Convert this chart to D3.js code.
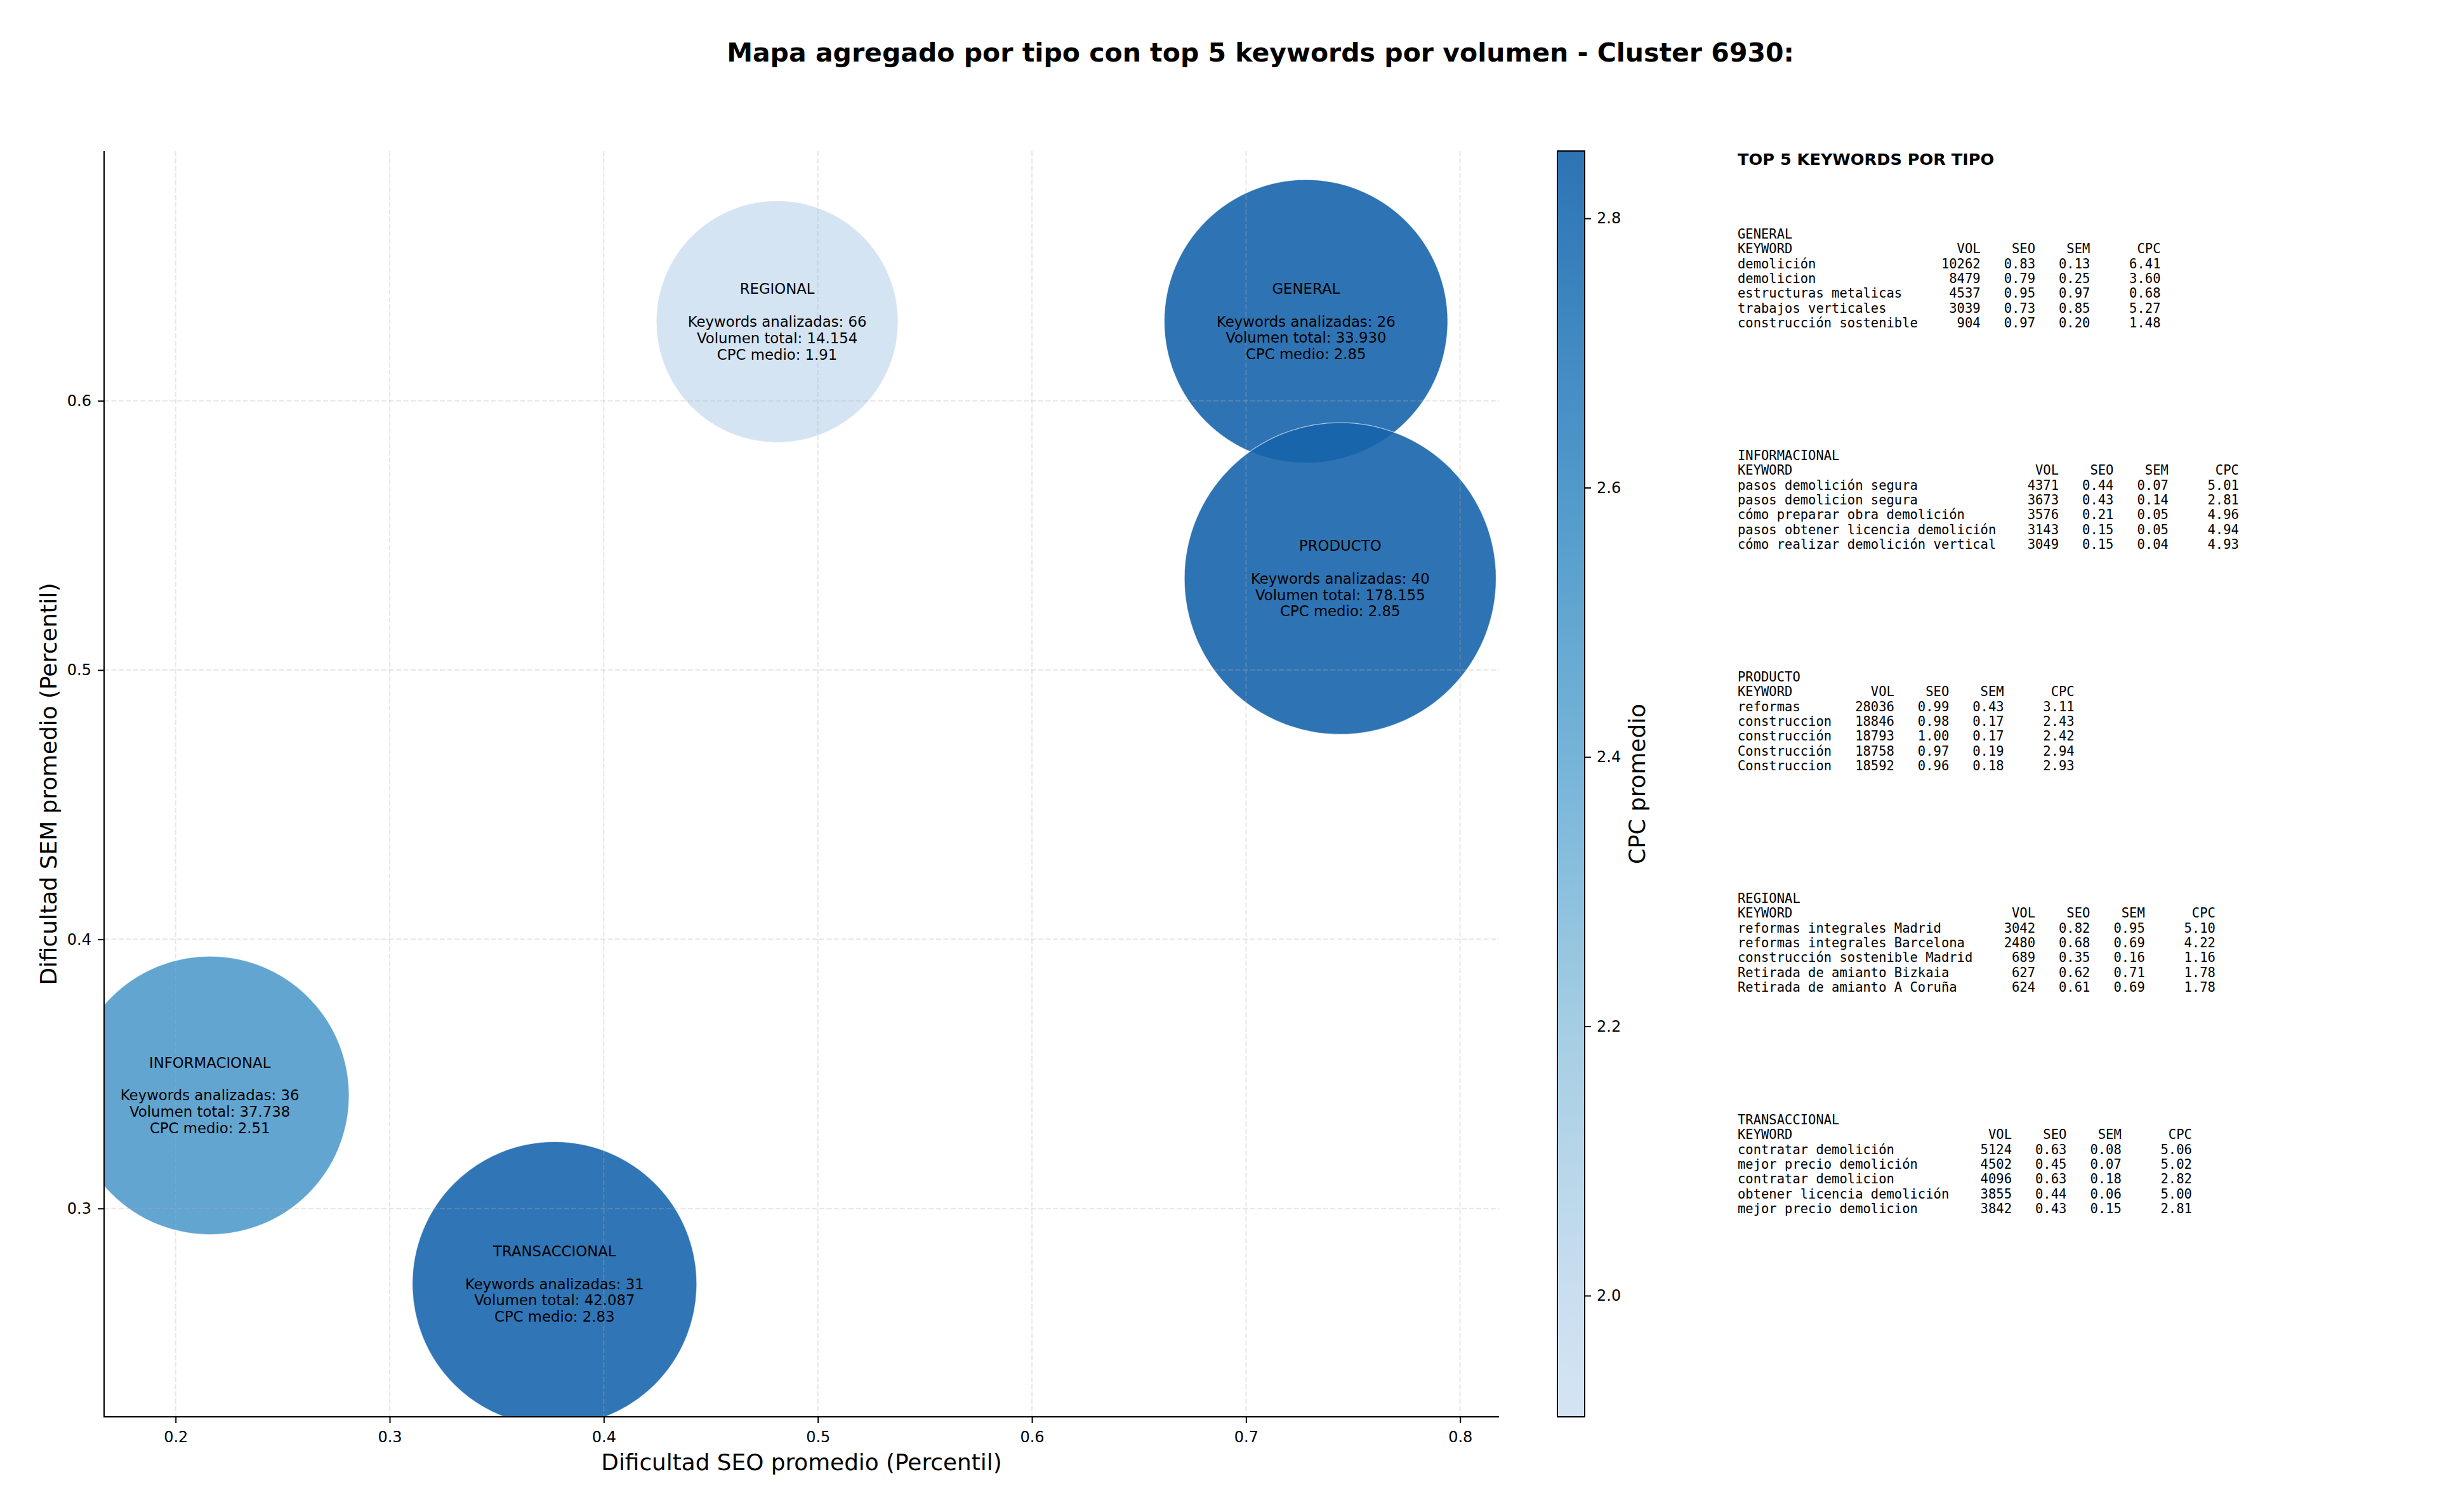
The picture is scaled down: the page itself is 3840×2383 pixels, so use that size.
<!DOCTYPE html>
<html>
<head>
<meta charset="utf-8">
<script src="https://cdn.jsdelivr.net/npm/d3@7"></script>
<style>
  html, body { margin: 0; padding: 0; background: #fff; }
  svg { display: block; }
  .mono { white-space: pre; }
</style>
</head>
<body>
<script>
// ---------------- DATA ----------------
const types = ["GENERAL", "INFORMACIONAL", "PRODUCTO", "REGIONAL", "TRANSACCIONAL"];
const seoAvg = [0.728, 0.216, 0.744, 0.481, 0.377];
const semAvg = [0.6295, 0.342, 0.534, 0.6294, 0.272];
const keywordCount = [26, 36, 40, 66, 31];
const totalVolume = [33930, 37738, 178155, 14154, 42087];
const cpcAvg = [2.85, 2.51, 2.85, 1.91, 2.83];

const xTicks = [0.2, 0.3, 0.4, 0.5, 0.6, 0.7, 0.8];
const yTicks = [0.3, 0.4, 0.5, 0.6];
const cbTicks = [2.0, 2.2, 2.4, 2.6, 2.8];

// top keywords per type: [keyword, vol, seo, sem, cpc]
const topGeneral = [
  ["demolición", 10262, 0.83, 0.13, 6.41],
  ["demolicion", 8479, 0.79, 0.25, 3.60],
  ["estructuras metalicas", 4537, 0.95, 0.97, 0.68],
  ["trabajos verticales", 3039, 0.73, 0.85, 5.27],
  ["construcción sostenible", 904, 0.97, 0.20, 1.48]
];
const topInformacional = [
  ["pasos demolición segura", 4371, 0.44, 0.07, 5.01],
  ["pasos demolicion segura", 3673, 0.43, 0.14, 2.81],
  ["cómo preparar obra demolición", 3576, 0.21, 0.05, 4.96],
  ["pasos obtener licencia demolición", 3143, 0.15, 0.05, 4.94],
  ["cómo realizar demolición vertical", 3049, 0.15, 0.04, 4.93]
];
const topProducto = [
  ["reformas", 28036, 0.99, 0.43, 3.11],
  ["construccion", 18846, 0.98, 0.17, 2.43],
  ["construcción", 18793, 1.00, 0.17, 2.42],
  ["Construcción", 18758, 0.97, 0.19, 2.94],
  ["Construccion", 18592, 0.96, 0.18, 2.93]
];
const topRegional = [
  ["reformas integrales Madrid", 3042, 0.82, 0.95, 5.10],
  ["reformas integrales Barcelona", 2480, 0.68, 0.69, 4.22],
  ["construcción sostenible Madrid", 689, 0.35, 0.16, 1.16],
  ["Retirada de amianto Bizkaia", 627, 0.62, 0.71, 1.78],
  ["Retirada de amianto A Coruña", 624, 0.61, 0.69, 1.78]
];
const topTransaccional = [
  ["contratar demolición", 5124, 0.63, 0.08, 5.06],
  ["mejor precio demolición", 4502, 0.45, 0.07, 5.02],
  ["contratar demolicion", 4096, 0.63, 0.18, 2.82],
  ["obtener licencia demolición", 3855, 0.44, 0.06, 5.00],
  ["mejor precio demolicion", 3842, 0.43, 0.15, 2.81]
];
const topTables = [topGeneral, topInformacional, topProducto, topRegional, topTransaccional];

const titleText = "Mapa agregado por tipo con top 5 keywords por volumen - Cluster 6930:";

// ---------------- LAYOUT ----------------
const W = 3840, H = 2383;
const plot = { left: 164, right: 2362, top: 238, bottom: 2233 };
const cb = { left: 2454, right: 2497, top: 238, bottom: 2233 };

const svg = d3.select("body").append("svg").attr("width", W).attr("height", H)
  .attr("viewBox", `0 0 ${W} ${H}`);

const SANS = "DejaVu Sans, sans-serif";
const MONO = "DejaVu Sans Mono, monospace";

// matplotlib "Blues" (linear between ColorBrewer anchors)
const bluesAnchors = ["#f7fbff", "#deebf7", "#c6dbef", "#9ecae1", "#6baed6", "#4292c6", "#2171b5", "#08519c", "#08306b"];
const bluesScale = d3.scaleLinear().domain(d3.range(9).map(i => i / 8)).range(bluesAnchors).interpolate(d3.interpolateRgb);

const cpcExtent = d3.extent(cpcAvg);
const cmapPos = d3.scaleLinear().domain(cpcExtent).range([0.2, 0.8]).clamp(true);
const colorOf = v => bluesScale(cmapPos(v));

const x = d3.scaleLinear().domain([0.16659, 0.81817]).range([plot.left, plot.right]);
const y = d3.scaleLinear().domain([0.22263, 0.69278]).range([plot.bottom, plot.top]);

const avgVol = totalVolume.map((v, i) => v / keywordCount[i]);
const r = d3.scaleLog().domain(d3.extent(avgVol)).range([190.5, 245.6]);

const fmtLocale = d3.formatLocale({ decimal: ",", thousands: ".", grouping: [3], currency: ["", "€"] });
const fmtVol = fmtLocale.format(",d");

const data = types.map((t, i) => ({
  type: t, seo: seoAvg[i], sem: semAvg[i], n: keywordCount[i], vol: totalVolume[i],
  cpc: cpcAvg[i], avg: avgVol[i]
}));

// ---------------- TITLE ----------------
svg.append("text")
  .attr("x", 1986).attr("y", 83)
  .attr("text-anchor", "middle").attr("dominant-baseline", "central")
  .style("font-family", SANS).style("font-weight", "bold").style("font-size", "41px")
  .text(titleText);

// ---------------- BUBBLES ----------------
svg.append("clipPath").attr("id", "plotclip").append("rect")
  .attr("x", plot.left).attr("y", plot.top)
  .attr("width", plot.right - plot.left).attr("height", plot.bottom - plot.top);

const gB = svg.append("g").attr("clip-path", "url(#plotclip)");
gB.selectAll("circle").data(data).enter().append("circle")
  .attr("cx", d => x(d.seo)).attr("cy", d => y(d.sem)).attr("r", d => r(d.avg))
  .attr("fill", d => colorOf(d.cpc)).attr("fill-opacity", 0.9)
  .attr("stroke", "#ffffff").attr("stroke-width", 1.2).attr("stroke-opacity", 0.6);

// ---------------- GRID (on top of bubbles, like matplotlib) ----------------
const gGrid = svg.append("g");
gGrid.selectAll("line.vx").data(xTicks).enter().append("line")
  .attr("x1", d => x(d)).attr("x2", d => x(d)).attr("y1", plot.top).attr("y2", plot.bottom)
  .attr("stroke", "#b0b0b0").attr("stroke-opacity", 0.3).attr("stroke-width", 2)
  .attr("stroke-dasharray", "8,3.5");
gGrid.selectAll("line.hy").data(yTicks).enter().append("line")
  .attr("y1", d => y(d)).attr("y2", d => y(d)).attr("x1", plot.left).attr("x2", plot.right)
  .attr("stroke", "#b0b0b0").attr("stroke-opacity", 0.3).attr("stroke-width", 2)
  .attr("stroke-dasharray", "8,3.5");

// ---------------- BUBBLE LABELS ----------------
const LH = 25.8;
const gL = svg.append("g").attr("clip-path", "url(#plotclip)");
data.forEach(d => {
  const lines = [d.type, "", `Keywords analizadas: ${d.n}`, `Volumen total: ${fmtVol(d.vol)}`, `CPC medio: ${d.cpc.toFixed(2)}`];
  const t = gL.append("text")
    .attr("text-anchor", "middle")
    .style("font-family", SANS).style("font-size", "22.8px").attr("fill", "#000");
  lines.forEach((ln, k) => {
    if (ln === "") return;
    t.append("tspan").attr("x", x(d.seo)).attr("y", y(d.sem) + (k - 2) * LH)
      .attr("dominant-baseline", "central").text(ln);
  });
});

// ---------------- AXES ----------------
const xAxis = d3.axisBottom(x).tickValues(xTicks).tickFormat(d3.format(".1f")).tickSize(10).tickSizeOuter(0).tickPadding(13);
const yAxis = d3.axisLeft(y).tickValues(yTicks).tickFormat(d3.format(".1f")).tickSize(10).tickSizeOuter(0).tickPadding(10);

const gx = svg.append("g").attr("transform", `translate(0,${plot.bottom})`).call(xAxis);
const gy = svg.append("g").attr("transform", `translate(${plot.left},0)`).call(yAxis);
[gx, gy].forEach(g => {
  g.selectAll("path.domain").attr("stroke", "#000").attr("stroke-width", 2);
  g.selectAll(".tick line").attr("stroke", "#000").attr("stroke-width", 2);
  g.selectAll(".tick text").style("font-family", SANS).style("font-size", "24px").attr("fill", "#000");
});
gx.select("path.domain").attr("d", `M${plot.left - 1},0H${plot.right}`);
gy.select("path.domain").attr("d", `M0,${plot.top}V${plot.bottom + 1}`);

svg.append("text")
  .attr("x", (plot.left + plot.right) / 2).attr("y", 2304)
  .attr("text-anchor", "middle").attr("dominant-baseline", "central")
  .style("font-family", SANS).style("font-size", "35.8px")
  .text("Dificultad SEO promedio (Percentil)");

svg.append("text")
  .attr("transform", `translate(76,${(plot.top + plot.bottom) / 2}) rotate(-90)`)
  .attr("text-anchor", "middle").attr("dominant-baseline", "central")
  .style("font-family", SANS).style("font-size", "35.8px")
  .text("Dificultad SEM promedio (Percentil)");

// ---------------- COLORBAR ----------------
const cbScale = d3.scaleLinear().domain(cpcExtent).range([cb.bottom, cb.top]);
const defs = svg.append("defs");
const grad = defs.append("linearGradient").attr("id", "cbgrad")
  .attr("x1", 0).attr("y1", 1).attr("x2", 0).attr("y2", 0);
d3.range(0, 1.0001, 0.05).forEach(f => {
  grad.append("stop").attr("offset", f)
    .attr("stop-color", colorOf(cpcExtent[0] + f * (cpcExtent[1] - cpcExtent[0])))
    .attr("stop-opacity", 0.9);
});
svg.append("rect")
  .attr("x", cb.left).attr("y", cb.top).attr("width", cb.right - cb.left).attr("height", cb.bottom - cb.top)
  .attr("fill", "url(#cbgrad)").attr("stroke", "#000").attr("stroke-width", 2);

const cbAxis = d3.axisRight(cbScale).tickValues(cbTicks).tickFormat(d3.format(".1f")).tickSize(10).tickSizeOuter(0).tickPadding(9);
const gcb = svg.append("g").attr("transform", `translate(${cb.right},0)`).call(cbAxis);
gcb.select("path.domain").remove();
gcb.selectAll(".tick line").attr("stroke", "#000").attr("stroke-width", 2);
gcb.selectAll(".tick text").style("font-family", SANS).style("font-size", "24px").attr("fill", "#000");

svg.append("text")
  .attr("transform", `translate(2579,${(cb.top + cb.bottom) / 2}) rotate(-90)`)
  .attr("text-anchor", "middle").attr("dominant-baseline", "central")
  .style("font-family", SANS).style("font-size", "35.8px")
  .text("CPC promedio");

// ---------------- TOP KEYWORDS PANEL ----------------
const panelX = 2738;
svg.append("text")
  .attr("x", panelX).attr("y", 251).attr("dominant-baseline", "central")
  .style("font-family", SANS).style("font-weight", "bold").style("font-size", "25.6px")
  .text("TOP 5 KEYWORDS POR TIPO");

const blockY0 = 368.7, blockStep = 349, rowH = 23.4;
types.forEach((t, i) => {
  const rows = topTables[i];
  const maxLen = d3.max(rows, rw => rw[0].length);
  const lines = [
    t,
    "KEYWORD".padEnd(maxLen) + "VOL".padStart(8) + "SEO".padStart(7) + "SEM".padStart(7) + "CPC".padStart(9)
  ].concat(rows.map(rw =>
    rw[0].padEnd(maxLen) + String(rw[1]).padStart(8) + rw[2].toFixed(2).padStart(7) +
    rw[3].toFixed(2).padStart(7) + rw[4].toFixed(2).padStart(9)));
  const txt = svg.append("text").attr("class", "mono")
    .style("font-family", MONO).style("font-size", "20.5px").attr("fill", "#000");
  lines.forEach((ln, k) => {
    txt.append("tspan").attr("x", panelX).attr("y", blockY0 + i * blockStep + k * rowH)
      .attr("dominant-baseline", "central").text(ln);
  });
});
</script>
</body>
</html>
